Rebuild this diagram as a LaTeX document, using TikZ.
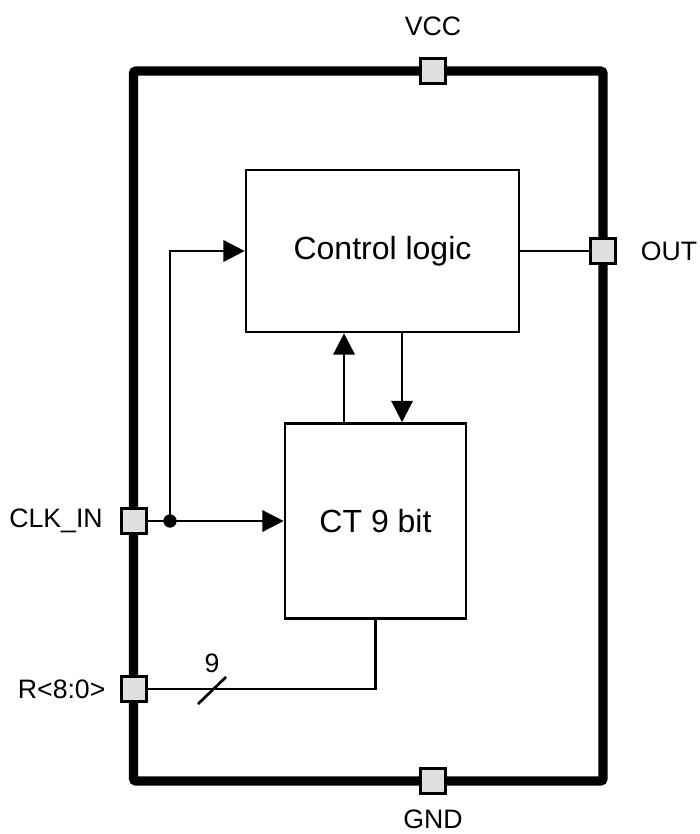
\documentclass[tikz,border=0pt]{standalone}
\usepackage{fontspec}
\setmainfont{Liberation Sans}
\usetikzlibrary{arrows.meta, positioning, calc}
\definecolor{pingray}{RGB}{224,224,224}
\tikzset{
  blk/.style={rectangle, draw=black, line width=2pt, font=\fontsize{24}{28}\selectfont,
    inner sep=0pt, align=center},
  pin/.style={rectangle, draw=black, fill=pingray, line width=2pt,
    minimum size=18.5pt, inner sep=0pt},
  plbl/.style={font=\fontsize{20}{24}\selectfont, inner sep=0pt},
  wire/.style={line width=2pt},
  arrow/.style={wire, -{Triangle[length=16pt, width=16pt]}},
  frame/.style={line width=7pt, rounded corners=2pt}
}

\begin{document}
\begin{tikzpicture}[x=0.75pt, y=-0.75pt]
  \useasboundingbox (0,0) rectangle (699,834);
  \draw[frame] (133.5,71) rectangle (603,781);
  \node[blk, minimum width=204.75pt, minimum height=121.5pt] (cl) at (382.5,251) {Control logic};
  \node[blk, minimum width=135.75pt, minimum height=146.25pt] (ct) at (375.5,521) {CT 9 bit};
  \node[pin] (vcc) at (433,71) {};
  \node[pin] (gnd) at (433,781) {};
  \node[pin] (out) at (603,251) {};
  \node[pin] (clk) at (134,521) {};
  \node[pin] (rin) at (134,689) {};
  \node[plbl, above=16pt of vcc] (vcclbl) {VCC};
  \node[plbl, below=11pt of gnd] (gndlbl) {GND};
  \node[plbl, right=18pt of out] (outlbl) {OUT};
  \node[plbl, left=13pt of clk] (clklbl) {CLK\_IN};
  \node[plbl, left=11pt of rin] (rinlbl) {R<8:0>};
  \coordinate (dot) at (170,521);
  \coordinate (bus) at (212,689);
  \node[plbl, above=12pt of bus] (buslbl) {9};
  \draw[wire] (clk) -- (dot);
  \fill (dot) circle (5pt);
  \draw[arrow] (dot) -- (ct.west);
  \draw[arrow] (dot) |- (cl.west);
  \draw[wire] (cl.east) -- (out);
  \draw[arrow] ([xshift=-23.6pt]ct.north) -- ([xshift=-23.6pt]ct.north |- cl.south);
  \draw[arrow] ([xshift=19.9pt]ct.north |- cl.south) -- ([xshift=19.9pt]ct.north);
  \draw[wire] (ct.south) |- (rin);
  \draw[wire] ($(bus)+(-14,15)$) -- ($(bus)+(14,-12)$);
\end{tikzpicture}
\end{document}
